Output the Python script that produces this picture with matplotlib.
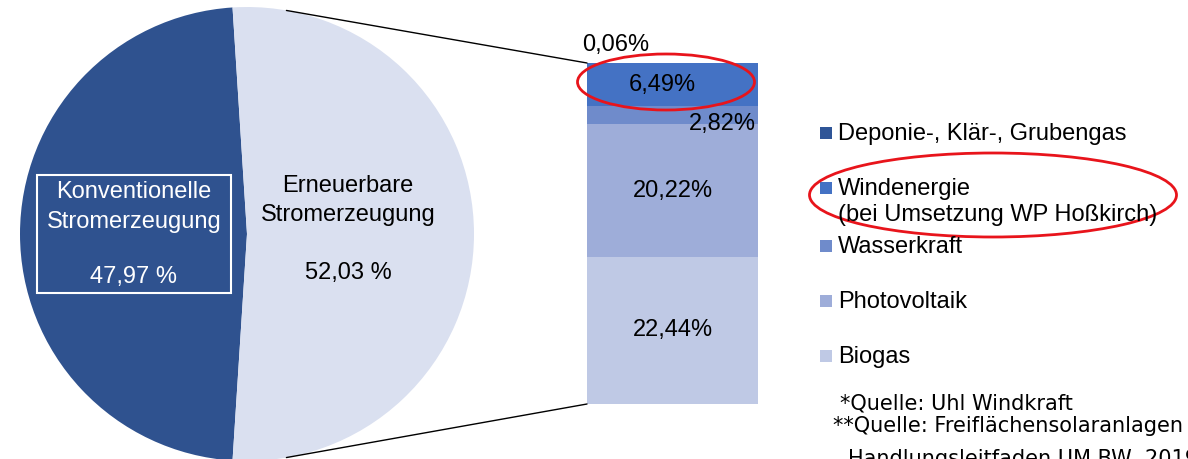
import numpy as np
import matplotlib.pyplot as plt
from matplotlib.patches import Rectangle, Ellipse, ConnectionPatch

plt.rcParams['font.family'] = ['Liberation Sans', 'DejaVu Sans']

# data
main_labels = ['Konventionelle\nStromerzeugung', 'Erneuerbare\nStromerzeugung']
main_values = [47.97, 52.03]
main_text = ['47,97 %', '52,03 %']
main_colors = ['#2F528F', '#DAE0F0']

sub_labels = ['Biogas', 'Photovoltaik', 'Wasserkraft',
              'Windenergie\n(bei Umsetzung WP Hoßkirch)', 'Deponie-, Klär-, Grubengas']
sub_values = [22.44, 20.22, 2.82, 6.49, 0.06]
sub_text = ['22,44%', '20,22%', '2,82%', '6,49%', '0,06%']
sub_colors = ['#BFC9E5', '#9EADD9', '#6F8BCB', '#4472C4', '#2F5597']

sources = ['*Quelle: Uhl Windkraft', '**Quelle: Freiflächensolaranlagen',
           'Handlungsleitfaden UM BW, 2019)']

W, H = 1188, 459


def fx(x):
    return x / W


def fy(y):
    return 1 - y / H


fig = plt.figure(figsize=(W / 100, H / 100), dpi=100)

# pie (left)
ax_pie = fig.add_axes([fx(20), fy(461), 454 / W, 454 / H])
conv_angle = main_values[0] / sum(main_values) * 360
ax_pie.pie(main_values, colors=main_colors, startangle=180 - conv_angle / 2,
           wedgeprops=dict(linewidth=0))
ax_pie.set_xlim(-1, 1)
ax_pie.set_ylim(-1, 1)
ax_pie.axis('off')

# stacked bar (right)
ax_bar = fig.add_axes([fx(587), fy(404), 171 / W, 341 / H])
total = sum(sub_values)
bottoms = np.concatenate([[0], np.cumsum(sub_values)[:-1]])
ax_bar.bar(0, sub_values, width=1, bottom=bottoms, color=sub_colors, linewidth=0)
ax_bar.set_xlim(-0.5, 0.5)
ax_bar.set_ylim(0, total)
ax_bar.axis('off')

fs = 17
ax_bar.text(0, bottoms[0] + sub_values[0] / 2, sub_text[0], ha='center', va='center', fontsize=fs)
ax_bar.text(0, bottoms[1] + sub_values[1] / 2, sub_text[1], ha='center', va='center', fontsize=fs)
ax_bar.text(0.49, bottoms[2], sub_text[2], ha='right', va='center', fontsize=fs)
ax_bar.text(-0.06, bottoms[3] + sub_values[3] / 2, sub_text[3], ha='center', va='center', fontsize=fs)
ax_bar.text(-0.33, total + 2.7, sub_text[4], ha='center', va='center', fontsize=fs, clip_on=False)

# connector lines pie -> bar
ang = np.deg2rad(80)
for sign, yb in [(1, total), (-1, 0)]:
    con = ConnectionPatch(xyA=(np.cos(ang), sign * np.sin(ang)), coordsA=ax_pie.transData,
                          xyB=(-0.5, yb), coordsB=ax_bar.transData, color='black', lw=1.0)
    fig.add_artist(con)

# pie labels
fig.text(fx(134), fy(192), 'Konventionelle', color='white', ha='center', va='center', fontsize=fs)
fig.text(fx(134), fy(222), 'Stromerzeugung', color='white', ha='center', va='center', fontsize=fs)
fig.text(fx(134), fy(277), main_text[0], color='white', ha='center', va='center', fontsize=fs)
fig.add_artist(Rectangle((fx(37), fy(293)), 194 / W, 118 / H, transform=fig.transFigure,
                         fill=False, edgecolor='white', lw=1.5))
fig.text(fx(348), fy(186), 'Erneuerbare', ha='center', va='center', fontsize=fs)
fig.text(fx(348), fy(215), 'Stromerzeugung', ha='center', va='center', fontsize=fs)
fig.text(fx(348), fy(273), main_text[1], ha='center', va='center', fontsize=fs)

# legend (top to bottom = bar top to bottom)
legend_y = [356, 301, 246, 188, 133]
for lab, col, y in zip(sub_labels, sub_colors, legend_y):
    fig.add_artist(Rectangle((fx(820), fy(y + 6)), 12 / W, 12 / H,
                             transform=fig.transFigure, color=col, lw=0))
    fig.text(fx(838), fy(y - 10), lab, ha='left', va='top', fontsize=fs, linespacing=1.25)

# sources
fig.text(fx(840), fy(404), sources[0], ha='left', va='center', fontsize=15, family='DejaVu Sans')
fig.text(fx(833), fy(426), sources[1], ha='left', va='center', fontsize=15, family='DejaVu Sans')
fig.text(fx(848), fy(449), sources[2], ha='left', va='top', fontsize=15, family='DejaVu Sans')

# red highlight ellipses
fig.add_artist(Ellipse((fx(666), fy(82)), 177 / W, 56 / H, transform=fig.transFigure,
                       fill=False, edgecolor='#E8141B', lw=2))
fig.add_artist(Ellipse((fx(993), fy(195)), 367 / W, 84 / H, transform=fig.transFigure,
                       fill=False, edgecolor='#E8141B', lw=2))

fig.savefig('out.png', dpi=100)
